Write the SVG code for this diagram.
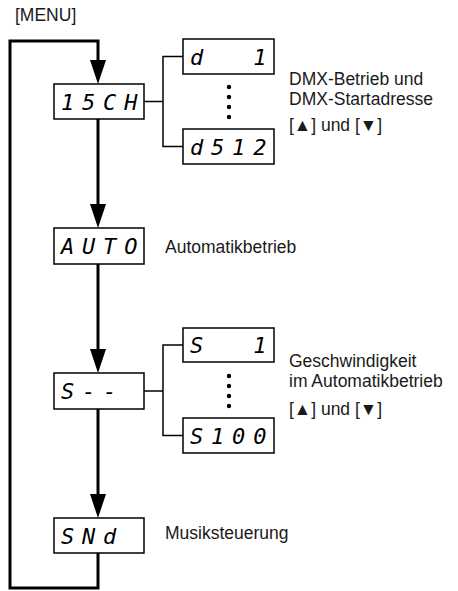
<svg xmlns="http://www.w3.org/2000/svg" width="458" height="591" viewBox="0 0 458 591">
<style>
.box{fill:#fff;stroke:#000;stroke-width:1.5}
.seg{font-family:"DejaVu Sans Mono",monospace;font-style:italic;font-size:22px;letter-spacing:7.8px;fill:#000;white-space:pre}
.lbl{font-family:"Liberation Sans",Arial,sans-serif;font-size:17.5px;fill:#1a1a1a}
.main{fill:none;stroke:#000;stroke-width:3}
.br{fill:none;stroke:#000;stroke-width:1.5}
.dot{fill:#000}
</style>
<defs>
<marker id="ah" viewBox="0 0 24 16" refX="14" refY="8" markerWidth="24" markerHeight="16" markerUnits="userSpaceOnUse" orient="auto">
<path d="M0,0 L24,8 L0,16 z" fill="#000"/>
</marker>
</defs>
<text class="lbl" x="15" y="21">[MENU]</text>
<g id="connectors">
<path class="main" d="M98,553 V588 H10 V41 H98 V74" marker-end="url(#ah)"/>
<path class="main" d="M98,119 V218" marker-end="url(#ah)"/>
<path class="main" d="M98,264 V363" marker-end="url(#ah)"/>
<path class="main" d="M98,409 V508" marker-end="url(#ah)"/>
<path class="br" d="M144,101.5 H163 M183,56.5 H163 V146.5 H183"/>
<path class="br" d="M144,391 H163 M183,345 H163 V435.5 H183"/>
</g>
<g id="n1sch">
<rect class="box" x="54" y="84" width="90" height="35"/>
<text class="seg" x="61" y="109.5">15CH</text>
</g>
<g id="nd1">
<rect class="box" x="183" y="39" width="91" height="35"/>
<text class="seg" x="190" y="64.5" xml:space="preserve">d  1</text>
</g>
<g id="dots1">
<circle class="dot" cx="229" cy="87" r="2.2"/>
<circle class="dot" cx="229" cy="97" r="2.2"/>
<circle class="dot" cx="229" cy="107" r="2.2"/>
<circle class="dot" cx="229" cy="117" r="2.2"/>
</g>
<g id="nd512">
<rect class="box" x="183" y="129" width="91" height="35"/>
<text class="seg" x="190" y="154.5">d512</text>
</g>
<g id="ldmx">
<text class="lbl" x="289" y="85">DMX-Betrieb und</text>
<text class="lbl" x="289" y="105">DMX-Startadresse</text>
<text class="lbl" x="289" y="131">[▲] und [▼]</text>
</g>
<g id="nauto">
<rect class="box" x="54" y="228" width="90" height="36"/>
<text class="seg" x="61" y="254">AUTO</text>
</g>
<text class="lbl" x="165" y="253">Automatikbetrieb</text>
<g id="ns">
<rect class="box" x="54" y="373" width="90" height="36"/>
<text class="seg" x="61" y="399">S--</text>
</g>
<g id="ns1">
<rect class="box" x="183" y="328" width="91" height="34"/>
<text class="seg" x="190" y="353">S  1</text>
</g>
<g id="dots2">
<circle class="dot" cx="229" cy="376" r="2.2"/>
<circle class="dot" cx="229" cy="386" r="2.2"/>
<circle class="dot" cx="229" cy="396" r="2.2"/>
<circle class="dot" cx="229" cy="406" r="2.2"/>
</g>
<g id="ns100">
<rect class="box" x="183" y="418" width="91" height="35"/>
<text class="seg" x="190" y="443.5">S100</text>
</g>
<g id="lspeed">
<text class="lbl" x="289" y="367">Geschwindigkeit</text>
<text class="lbl" x="289" y="387">im Automatikbetrieb</text>
<text class="lbl" x="289" y="415">[▲] und [▼]</text>
</g>
<g id="nsnd">
<rect class="box" x="54" y="518" width="90" height="35"/>
<text class="seg" x="61" y="543.5">SNd</text>
</g>
<text class="lbl" x="165" y="539">Musiksteuerung</text>
</svg>
